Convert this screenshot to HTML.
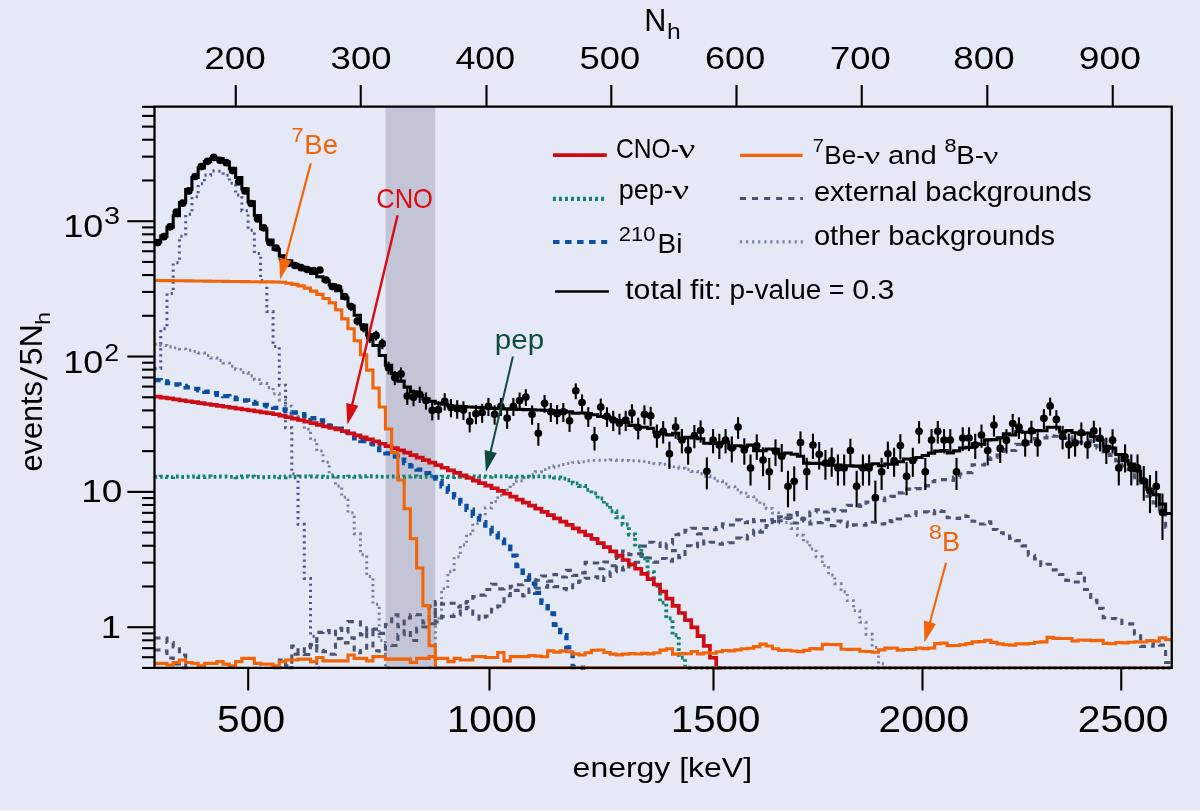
<!DOCTYPE html>
<html lang="en"><head><meta charset="utf-8"><title>Borexino CNO neutrino spectral fit</title>
<style>html,body{margin:0;padding:0;background:#E5E9F5;}body{width:1200px;height:811px;overflow:hidden;}svg{display:block;}</style>
</head><body>
<svg width="1200" height="811" viewBox="0 0 1200 811" style="will-change:transform" font-family="'Liberation Sans', sans-serif" fill="#000">
<rect width="1200" height="811" fill="#E5E9F5"/>
<rect x="0" y="809.7" width="1200" height="1.3" fill="#F6F7FC"/>
<defs><clipPath id="cp"><rect x="154.5" y="106.6" width="1017.25" height="563.8"/></clipPath></defs>
<rect x="385.6" y="106.6" width="49.6" height="561.1999999999999" fill="#C3C5D6"/>
<g clip-path="url(#cp)" fill="none" stroke-linejoin="miter">
<path d="M154.48 368.46H160.72V328.75H166.96V293.49H173.20V262.67H179.45V236.29H185.69V214.35H191.93V196.86H198.17V183.81H204.41V175.21H210.65V171.04H216.89V171.23H223.14V175.32H229.38V183.25H235.62V195.03H241.86V210.66H248.10V230.13H254.34V253.45H260.59V280.61H266.83V311.62H273.07V346.48H279.31V385.18H285.55V427.72H291.79V474.12H298.03V524.35H304.28V578.44H310.52V636.37H316.76V667.80H323.00" stroke="#50568A" stroke-width="3.0" stroke-dasharray="2.2 3.88"/>
<path d="M154.48 344.26H160.72V345.47H166.96V346.68H173.20V347.90H179.45V349.11H185.69V350.32H191.93V351.54H198.17V353.02H204.41V355.51H210.65V358.01H216.89V360.51H223.14V363.13H229.38V366.25H235.62V369.37H241.86V372.49H248.10V375.76H254.34V379.67H260.59V383.57H266.83V387.47H273.07V393.69H279.31V399.93H285.55V406.17H291.79V413.23H298.03V420.51H304.28V429.19H310.52V440.12H316.76V451.04H323.00V462.24H329.24V474.73H335.48V486.01H341.73V497.19H347.97V512.85H354.21V533.76H360.45V554.74H366.69V576.49H372.93V604.19H379.17V640.52H385.42V667.80H391.66" stroke="#767F9C" stroke-width="2.9" stroke-dasharray="2.2 3.6"/>
<path d="M429.11 667.80H435.35V618.25H441.59V588.61H447.83V571.80H454.07V556.83H460.31V544.97H466.55V534.14H472.80V523.66H479.04V515.41H485.28V507.92H491.52V501.36H497.76V495.23H504.00V489.83H510.25V484.42H516.49V480.79H522.73V477.79H528.97V474.80H535.21V471.80H541.45V469.63H547.69V467.76H553.94V465.88H560.18V464.51H566.42V463.57H572.66V462.63H578.90V461.70H585.14V460.76H591.38V460.41H597.63V460.29H603.87V460.16H610.11V460.04H616.35V460.18H622.59V460.43H628.83V460.68H635.08V460.93H641.32V461.62H647.56V462.50H653.80V463.37H660.04V464.24H666.28V465.47H672.52V466.84H678.77V468.22H685.01V469.59H691.25V471.57H697.49V473.82H703.73V476.07H709.97V478.31H716.22V481.05H722.46V483.99H728.70V486.94H734.94V489.88H741.18V493.17H747.42V496.61H753.66V500.06H759.91V504.22H766.15V508.38H772.39V512.91H778.63V517.69H784.87V522.46H791.11V528.56H797.35V535.29H803.60V542.02H809.84V549.07H816.08V556.82H822.32V565.66H828.56V575.02H834.80V583.74H841.05V591.73H847.29V600.65H853.53V610.64H859.77V622.15H866.01V634.26H872.25V647.44H878.49V663.76H884.74V667.80H890.98" stroke="#767F9C" stroke-width="2.9" stroke-dasharray="2.2 3.6"/>
<path d="M154.48 638.00H160.72V638.00H166.96V642.50H173.20V647.00H179.45V655.00H185.69V667.80H191.93" stroke="#4A5470" stroke-width="3.1" stroke-dasharray="6 5.4"/>
<path d="M154.48 650.00H160.72V651.00H166.96V658.00H173.20V664.00H179.45V667.80H185.69" stroke="#4A5470" stroke-width="3.1" stroke-dasharray="6 5.4"/>
<path d="M273.07 667.80H279.31V660.07H285.55V665.82H291.79V654.26H298.03V653.94H304.28V654.44H310.52V644.33H316.76V650.29H323.00V651.63H329.24V654.32H335.48V638.62H341.73V642.90H347.97V637.90H354.21V652.73H360.45V648.08H366.69V631.66H372.93V650.77H379.17V651.32H385.42V645.42H391.66V645.51H397.90V634.66H404.14V630.70H410.38V640.57H416.62V628.39H422.86V626.99H429.11V623.76H435.35V601.55H441.59V604.13H447.83V603.25H454.07V607.05H460.31V602.87H466.55V601.55H472.80V596.67H479.04V595.14H485.28V589.55H491.52V584.25H497.76V588.84H504.00V587.95H510.25V586.24H516.49V584.79H522.73V580.47H528.97V579.53H535.21V580.18H541.45V575.94H547.69V581.10H553.94V574.58H560.18V576.99H566.42V570.34H572.66V575.38H578.90V572.92H585.14V562.35H591.38V562.96H597.63V568.79H603.87V562.07H610.11V565.81H616.35V557.08H622.59V551.02H628.83V554.64H635.08V553.79H641.32V546.14H647.56V542.25H653.80V543.08H660.04V548.16H666.28V543.84H672.52V534.68H678.77V533.97H685.01V530.25H691.25V528.28H697.49V533.84H703.73V528.50H709.97V529.73H716.22V527.66H722.46V523.91H728.70V525.00H734.94V519.91H741.18V522.70H747.42V519.47H753.66V521.73H759.91V520.60H766.15V519.51H772.39V522.66H778.63V520.77H784.87V518.41H791.11V522.97H797.35V519.16H803.60V521.00H809.84V524.04H816.08V522.64H822.32V519.25H828.56V525.59H834.80V520.95H841.05V522.15H847.29V526.67H853.53V524.86H859.77V525.27H866.01V523.59H872.25V522.18H878.49V523.99H884.74V520.58H890.98V521.78H897.22V518.95H903.46V515.74H909.70V515.50H915.94V511.83H922.18V511.89H928.43V513.73H934.67V510.46H940.91V511.52H947.15V517.75H953.39V518.37H959.63V515.74H965.88V516.47H972.12V521.22H978.36V524.05H984.60V521.84H990.84V529.52H997.08V532.69H1003.32V536.11H1009.57V538.38H1015.81V540.67H1022.05V545.90H1028.29V555.31H1034.53V558.86H1040.77V565.41H1047.01V564.24H1053.26V569.89H1059.50V574.56H1065.74V580.34H1071.98V581.98H1078.22V573.18H1084.46V589.44H1090.70V600.35H1096.95V608.41H1103.19V617.79H1109.43V618.49H1115.67V618.80H1121.91V623.35H1128.15V623.92H1134.40V633.92H1140.64V646.36H1146.88V646.12H1153.12V643.84H1159.36V645.14H1165.60V662.48H1171.75" stroke="#4A5470" stroke-width="3.1" stroke-dasharray="6 5.4"/>
<path d="M279.31 667.80H285.55V667.79H291.79V646.05H298.03V653.35H304.28V646.03H310.52V644.75H316.76V632.34H323.00V630.47H329.24V634.62H335.48V628.30H341.73V632.05H347.97V621.63H354.21V622.04H360.45V634.83H366.69V627.79H372.93V629.17H379.17V633.42H385.42V624.54H391.66V614.74H397.90V626.75H404.14V617.85H410.38V614.63H416.62V614.82H422.86V622.86H429.11V606.37H435.35V622.04H441.59V616.67H447.83V616.41H454.07V614.89H460.31V608.58H466.55V607.31H472.80V614.08H479.04V619.26H485.28V616.11H491.52V609.23H497.76V606.07H504.00V595.70H510.25V590.35H516.49V590.56H522.73V595.97H528.97V589.15H535.21V588.26H541.45V587.17H547.69V585.27H553.94V586.62H560.18V588.64H566.42V589.67H572.66V582.40H578.90V580.96H585.14V578.19H591.38V576.77H597.63V580.47H603.87V576.46H610.11V571.77H616.35V566.73H622.59V570.05H628.83V565.09H635.08V562.30H641.32V554.62H647.56V558.00H653.80V562.11H660.04V558.52H666.28V561.08H672.52V550.65H678.77V557.66H685.01V545.68H691.25V546.73H697.49V541.14H703.73V543.94H709.97V542.24H716.22V544.13H722.46V543.01H728.70V542.74H734.94V538.03H741.18V538.99H747.42V535.23H753.66V530.27H759.91V532.12H766.15V525.44H772.39V521.50H778.63V516.78H784.87V515.13H791.11V512.50H797.35V518.12H803.60V518.97H809.84V511.93H816.08V509.70H822.32V512.04H828.56V509.20H834.80V510.92H841.05V510.83H847.29V505.38H853.53V504.83H859.77V506.40H866.01V502.12H872.25V499.65H878.49V500.63H884.74V497.96H890.98V496.35H897.22V492.84H903.46V489.03H909.70V489.32H915.94V488.66H922.18V485.84H928.43V481.64H934.67V480.45H940.91V479.65H947.15V480.48H953.39V477.12H959.63V473.95H965.88V472.66H972.12V464.80H978.36V465.04H984.60V459.57H990.84V457.57H997.08V455.03H1003.32V449.61H1009.57V450.51H1015.81V444.42H1022.05V443.87H1028.29V441.76H1034.53V438.51H1040.77V437.88H1047.01V435.87H1053.26V436.22H1059.50V438.56H1065.74V436.81H1071.98V439.42H1078.22V442.16H1084.46V440.69H1090.70V445.54H1096.95V447.95H1103.19V454.14H1109.43V455.37H1115.67V460.99H1121.91V466.05H1128.15V469.73H1134.40V477.60H1140.64V486.36H1146.88V496.12H1153.12V502.90H1159.36V513.05H1165.60V527.30H1171.75" stroke="#4A5470" stroke-width="3.1" stroke-dasharray="6 5.4" stroke-dashoffset="3"/>
<path d="M154.48 476.82H160.72V476.64H166.96V477.13H173.20V476.55H179.45V477.00H185.69V476.82H191.93V476.51H198.17V476.95H204.41V476.47H210.65V476.86H216.89V476.49H223.14V476.50H229.38V476.83H235.62V477.22H241.86V476.51H248.10V476.60H254.34V477.00H260.59V477.31H266.83V476.93H273.07V476.74H279.31V477.32H285.55V476.38H291.79V477.18H298.03V476.61H304.28V476.45H310.52V476.42H316.76V476.60H323.00V477.10H329.24V476.46H335.48V476.85H341.73V476.90H347.97V476.63H354.21V476.79H360.45V476.30H366.69V476.29H372.93V476.43H379.17V476.89H385.42V476.63H391.66V476.51H397.90V476.78H404.14V476.64H410.38V476.47H416.62V476.96H422.86V476.86H429.11V476.40H435.35V476.72H441.59V476.66H447.83V477.00H454.07V476.85H460.31V476.40H466.55V477.08H472.80V476.21H479.04V476.51H485.28V476.84H491.52V476.22H497.76V476.55H504.00V476.10H510.25V476.72H516.49V476.81H522.73V476.61H528.97V476.90H535.21V476.33H541.45V476.71H547.69V476.60H553.94V477.49H560.18V478.62H566.42V480.25H572.66V483.34H578.90V485.99H585.14V489.84H591.38V493.40H597.63V498.45H603.87V504.64H610.11V511.22H616.35V517.29H622.59V524.50H628.83V534.53H635.08V546.56H641.32V558.40H647.56V572.12H653.80V585.86H660.04V602.60H666.28V618.36H672.52V635.23H678.77V657.43H685.01V667.80H691.25" stroke="#14826F" stroke-width="3.9" stroke-dasharray="2.7 3.0"/>
<path d="M154.48 380.11H160.72V381.57H166.96V383.03H173.20V384.49H179.45V385.95H185.69V387.41H191.93V388.87H198.17V390.33H204.41V391.79H210.65V393.25H216.89V394.71H223.14V396.17H229.38V397.63H235.62V399.09H241.86V400.55H248.10V402.01H254.34V403.47H260.59V404.93H266.83V406.39H273.07V407.87H279.31V409.44H285.55V411.00H291.79V412.57H298.03V414.14H304.28V415.98H310.52V418.26H316.76V420.54H323.00V423.13H329.24V425.95H335.48V428.77H341.73V431.82H347.97V435.17H354.21V438.36H360.45V440.97H366.69V443.59H372.93V446.62H379.17V450.01H385.42V453.33H391.66V456.51H397.90V459.68H404.14V462.95H410.38V466.31H416.62V469.67H422.86V473.13H429.11V477.13H435.35V481.27H441.59V486.27H447.83V491.68H454.07V497.42H460.31V503.43H466.55V509.68H472.80V515.92H479.04V522.16H485.28V527.99H491.52V533.48H497.76V539.79H504.00V546.78H510.25V555.66H516.49V566.14H522.73V575.42H528.97V583.66H535.21V592.83H541.45V602.82H547.69V613.47H553.94V624.70H560.18V635.18H566.42V647.35H572.66V667.09H578.90V667.80H585.14" stroke="#0C4FA1" stroke-width="4.4" stroke-dasharray="6.5 5.6"/>
<path d="M154.48 396.63H160.72V397.55H166.96V398.47H173.20V399.39H179.45V400.31H185.69V401.24H191.93V402.16H198.17V403.08H204.41V404.00H210.65V404.92H216.89V405.84H223.14V406.76H229.38V407.68H235.62V408.60H241.86V409.52H248.10V410.44H254.34V411.36H260.59V412.28H266.83V413.20H273.07V414.24H279.31V415.69H285.55V417.13H291.79V418.57H298.03V420.01H304.28V421.54H310.52V423.22H316.76V424.90H323.00V426.47H329.24V427.98H335.48V429.48H341.73V431.24H347.97V433.29H354.21V435.32H360.45V437.30H366.69V439.28H372.93V441.45H379.17V443.76H385.42V446.03H391.66V448.15H397.90V450.28H404.14V452.61H410.38V455.13H416.62V457.64H422.86V460.16H429.11V462.67H435.35V465.18H441.59V467.74H447.83V470.30H454.07V472.87H460.31V475.44H466.55V478.00H472.80V480.57H479.04V483.14H485.28V485.70H491.52V488.27H497.76V490.84H504.00V493.72H510.25V496.72H516.49V499.71H522.73V502.71H528.97V505.70H535.21V508.70H541.45V511.88H547.69V515.12H553.94V518.37H560.18V521.62H566.42V524.95H572.66V528.32H578.90V531.69H585.14V535.06H591.38V538.97H597.63V543.09H603.87V547.21H610.11V551.33H616.35V555.63H622.59V560.00H628.83V564.37H635.08V568.74H641.32V573.80H647.56V579.15H653.80V584.50H660.04V591.51H666.28V598.69H672.52V605.87H678.77V613.01H685.01V620.15H691.25V627.28H697.49V636.14H703.73V645.83H709.97V657.73H716.22V667.80H722.46" stroke="#CE0C15" stroke-width="3.7"/>
<path d="M154.48 280.50H160.72V280.58H166.96V280.66H173.20V280.74H179.45V280.82H185.69V280.89H191.93V280.97H198.17V281.05H204.41V281.13H210.65V281.21H216.89V281.29H223.14V281.37H229.38V281.45H235.62V281.53H241.86V281.61H248.10V281.68H254.34V281.76H260.59V281.84H266.83V281.92H273.07V282.00H279.31V282.20H285.55V283.30H291.79V284.40H298.03V285.90H304.28V288.10H310.52V291.10H316.76V294.40H323.00V298.50H329.24V302.90H335.48V309.80H341.73V318.90H347.97V328.80H354.21V340.80H360.45V354.70H366.69V370.10H372.93V388.00H379.17V407.00H385.42V429.00H391.66V452.50H397.90V480.00H404.14V508.75H410.38V538.75H416.62V568.00H422.86V605.60H429.11V645.60H435.35V667.80H441.59V667.80H447.83V667.80H454.07V667.80H460.31V667.80H466.55V667.80H472.80V667.80H479.04V667.80H485.28V667.80H491.52V667.80H497.76V667.80H504.00V667.80H510.25V667.80H516.49V667.80H522.73V667.80H528.97V667.80H535.21V667.80H541.45V667.80H547.69V667.80H553.94V667.80H560.18V667.80H566.42V667.80H572.66V667.80H578.90V667.80H585.14V667.80H591.38V667.80H597.63V667.80H603.87V667.80H610.11V667.80H616.35V667.80H622.59V667.80H628.83V667.80H635.08V667.80H641.32V667.80H647.56V667.80H653.80V667.80H660.04V667.80H666.28V667.80H672.52V667.80H678.77V667.80H685.01V667.80H691.25V667.80H697.49V667.80H703.73V667.80H709.97V667.80H716.22V667.80H722.46V667.80H728.70V667.80H734.94V667.80H741.18V667.80H747.42V667.80H753.66V667.80H759.91V667.80H766.15V667.80H772.39V667.80H778.63V667.80H784.87V667.80H791.11V667.80H797.35V667.80H803.60V667.80H809.84V667.80H816.08V667.80H822.32V667.80H828.56V667.80H834.80V667.80H841.05V667.80H847.29V667.80H853.53V667.80H859.77V667.80H866.01V667.80H872.25V667.80H878.49V667.80H884.74V667.80H890.98V667.80H897.22V667.80H903.46V667.80H909.70V667.80H915.94V667.80H922.18V667.80H928.43V667.80H934.67V667.80H940.91V667.80H947.15V667.80H953.39V667.80H959.63V667.80H965.88V667.80H972.12V667.80H978.36V667.80H984.60V667.80H990.84V667.80H997.08V667.80H1003.32V667.80H1009.57V667.80H1015.81V667.80H1022.05V667.80H1028.29V667.80H1034.53V667.80H1040.77V667.80H1047.01V667.80H1053.26V667.80H1059.50V667.80H1065.74V667.80H1071.98V667.80H1078.22V667.80H1084.46V667.80H1090.70V667.80H1096.95V667.80H1103.19V667.80H1109.43V667.80H1115.67V667.80H1121.91V667.80H1128.15V667.80H1134.40V667.80H1140.64V667.80H1146.88V667.80H1153.12V667.80H1159.36V667.80H1165.60V667.80H1171.75" stroke="#F36408" stroke-width="3.1"/>
<path d="M154.48 663.33H160.72V663.33H166.96V665.00H173.20V662.50H179.45V660.00H185.69V662.50H191.93V663.33H198.17V665.83H204.41V663.33H210.65V663.33H216.89V661.67H223.14V664.17H229.38V665.83H235.62V661.67H241.86V658.33H248.10V658.33H254.34V663.33H260.59V664.17H266.83V664.17H273.07V665.83H279.31V661.67H285.55V660.00H291.79V660.00H298.03V659.17H304.28V659.17H310.52V661.67H316.76V657.50H323.00V660.83H329.24V660.83H335.48V660.83H341.73V660.83H347.97V655.00H354.21V658.33H360.45V658.33H366.69V660.83H372.93V656.67H379.17V656.67H385.42V659.17H391.66V659.17H397.90V659.17H404.14V659.17H410.38V662.50H416.62V658.33H422.86V658.33H429.11V656.67H435.35V658.33H441.59V658.33H447.83V661.67H454.07V658.33H460.31V660.00H466.55V660.00H472.80V656.67H479.04V656.67H485.28V657.50H491.52V657.50H497.76V652.50H504.00V660.83H510.25V656.67H516.49V656.67H522.73V656.67H528.97V655.57H535.21V656.08H541.45V656.73H547.69V650.85H553.94V652.14H560.18V650.88H566.42V651.82H572.66V653.88H578.90V655.06H585.14V652.69H591.38V650.25H597.63V649.98H603.87V652.51H610.11V654.11H616.35V654.86H622.59V654.12H628.83V653.67H635.08V653.97H641.32V653.35H647.56V653.87H653.80V652.76H660.04V650.08H666.28V648.68H672.52V654.15H678.77V653.45H685.01V653.79H691.25V651.50H697.49V653.89H703.73V652.79H709.97V653.21H716.22V651.82H722.46V650.43H728.70V650.85H734.94V649.85H741.18V648.74H747.42V648.32H753.66V646.62H759.91V644.08H766.15V646.01H772.39V648.80H778.63V650.47H784.87V650.29H791.11V651.07H797.35V651.66H803.60V650.36H809.84V648.65H816.08V648.87H822.32V644.36H828.56V644.51H834.80V644.67H841.05V649.25H847.29V649.39H853.53V649.29H859.77V651.21H866.01V651.53H872.25V652.22H878.49V649.87H884.74V648.15H890.98V648.02H897.22V650.15H903.46V649.48H909.70V649.49H915.94V647.95H922.18V648.66H928.43V647.93H934.67V643.63H940.91V642.96H947.15V645.64H953.39V645.54H959.63V644.75H965.88V643.64H972.12V641.89H978.36V641.62H984.60V640.25H990.84V642.33H997.08V643.90H1003.32V644.76H1009.57V645.10H1015.81V643.77H1022.05V643.84H1028.29V643.43H1034.53V642.23H1040.77V641.87H1047.01V637.37H1053.26V638.42H1059.50V638.46H1065.74V638.45H1071.98V641.06H1078.22V640.01H1084.46V640.11H1090.70V640.63H1096.95V640.40H1103.19V643.37H1109.43V643.75H1115.67V642.55H1121.91V642.90H1128.15V642.20H1134.40V641.87H1140.64V642.01H1146.88V640.59H1153.12V641.09H1159.36V637.75H1165.60V639.66H1171.75" stroke="#F36408" stroke-width="3.1"/>
<line x1="689" y1="667.8" x2="1171.75" y2="667.8" stroke="#14826F" stroke-width="3.3" stroke-dasharray="2.6 3.1"/>
<path d="M154.48 241.98H160.72V236.14H166.96V227.27H173.20V215.70H179.45V202.61H185.69V189.45H191.93V177.56H198.17V168.01H204.41V161.47H210.65V158.29H216.89V158.57H223.14V161.99H229.38V168.39H235.62V177.51H241.86V188.91H248.10V201.92H254.34V215.59H260.59V228.72H266.83V240.13H273.07V249.22H279.31V255.77H285.55V260.71H291.79V264.20H298.03V267.02H304.28V269.95H310.52V273.35H316.76V276.80H323.00V280.76H329.24V284.92H335.48V290.79H341.73V298.14H347.97V306.05H354.21V315.18H360.45V324.94H366.69V334.90H372.93V345.45H379.17V355.48H385.42V365.32H391.66V373.62H397.90V381.10H404.14V387.09H410.38V391.86H416.62V395.55H422.86V398.83H429.11V401.33H435.35V403.21H441.59V404.20H447.83V406.05H454.07V406.36H460.31V406.67H466.55V406.98H472.80V407.32H479.04V407.65H485.28V407.99H491.52V408.33H497.76V408.66H504.00V408.92H510.25V409.14H516.49V409.37H522.73V409.59H528.97V409.82H535.21V410.04H541.45V410.26H547.69V410.49H553.94V410.71H560.18V411.05H566.42V411.92H572.66V413.28H578.90V413.06H585.14V413.58H591.38V414.74H597.63V416.55H603.87V417.37H610.11V419.59H616.35V420.62H622.59V422.48H628.83V425.37H635.08V427.28H641.32V427.22H647.56V428.39H653.80V432.22H660.04V433.93H666.28V434.86H672.52V433.32H678.77V438.51H685.01V437.24H691.25V437.83H697.49V438.73H703.73V443.26H709.97V443.40H716.22V443.17H722.46V442.00H728.70V447.98H734.94V445.79H741.18V446.75H747.42V445.08H753.66V450.60H759.91V450.73H766.15V449.07H772.39V449.36H778.63V454.07H784.87V453.06H791.11V454.28H797.35V456.25H803.60V463.14H809.84V463.36H816.08V463.41H822.32V463.86H828.56V465.32H834.80V465.02H841.05V466.05H847.29V465.90H853.53V466.12H859.77V467.08H866.01V464.77H872.25V463.74H878.49V465.77H884.74V464.08H890.98V464.18H897.22V461.77H903.46V459.07H909.70V459.31H915.94V457.47H922.18V455.47H928.43V453.15H934.67V451.09H940.91V450.62H947.15V452.83H953.39V450.90H959.63V447.94H965.88V447.34H972.12V443.73H978.36V444.56H984.60V439.89H990.84V439.67H997.08V437.83H1003.32V433.84H1009.57V435.01H1015.81V431.40H1022.05V432.30H1028.29V432.32H1034.53V430.54H1040.77V430.68H1047.01V427.25H1053.26V427.26H1059.50V431.97H1065.74V430.67H1071.98V432.77H1078.22V433.97H1084.46V433.02H1090.70V436.68H1096.95V439.93H1103.19V446.31H1109.43V448.17H1115.67V454.46H1121.91V460.60H1128.15V464.16H1134.40V470.99H1140.64V480.65H1146.88V489.50H1153.12V494.79H1159.36V504.16H1165.60V513.44H1171.75" stroke="#000" stroke-width="3.1"/>
</g>
<g stroke="#000" stroke-width="2.1" fill="#000">
<circle cx="157.60" cy="242.60" r="3.85" stroke="none"/>
<circle cx="163.84" cy="236.70" r="3.85" stroke="none"/>
<circle cx="170.08" cy="226.80" r="3.85" stroke="none"/>
<circle cx="176.33" cy="212.00" r="3.85" stroke="none"/>
<circle cx="182.57" cy="203.20" r="3.85" stroke="none"/>
<circle cx="188.81" cy="190.90" r="3.85" stroke="none"/>
<circle cx="195.05" cy="176.50" r="3.85" stroke="none"/>
<circle cx="201.29" cy="166.60" r="3.85" stroke="none"/>
<circle cx="207.53" cy="161.30" r="3.85" stroke="none"/>
<circle cx="213.77" cy="157.40" r="3.85" stroke="none"/>
<circle cx="220.02" cy="160.30" r="3.85" stroke="none"/>
<circle cx="226.26" cy="162.70" r="3.85" stroke="none"/>
<circle cx="232.50" cy="170.60" r="3.85" stroke="none"/>
<circle cx="238.74" cy="181.80" r="3.85" stroke="none"/>
<circle cx="244.98" cy="190.90" r="3.85" stroke="none"/>
<circle cx="251.22" cy="203.50" r="3.85" stroke="none"/>
<circle cx="257.46" cy="218.90" r="3.85" stroke="none"/>
<circle cx="263.71" cy="227.80" r="3.85" stroke="none"/>
<circle cx="269.95" cy="242.60" r="3.85" stroke="none"/>
<circle cx="276.19" cy="248.00" r="3.85" stroke="none"/>
<circle cx="282.43" cy="258.50" r="3.85" stroke="none"/>
<circle cx="288.67" cy="263.30" r="3.85" stroke="none"/>
<circle cx="294.91" cy="265.50" r="3.85" stroke="none"/>
<circle cx="301.16" cy="267.70" r="3.85" stroke="none"/>
<circle cx="307.40" cy="269.50" r="3.85" stroke="none"/>
<circle cx="313.64" cy="270.60" r="3.85" stroke="none"/>
<circle cx="319.88" cy="270.00" r="3.85" stroke="none"/>
<circle cx="326.12" cy="280.00" r="3.85" stroke="none"/>
<circle cx="332.36" cy="286.60" r="3.85" stroke="none"/>
<line x1="338.60" y1="284.91" x2="338.60" y2="291.48"/>
<circle cx="338.60" cy="288.10" r="3.85" stroke="none"/>
<line x1="344.85" y1="293.17" x2="344.85" y2="300.24"/>
<circle cx="344.85" cy="296.60" r="3.85" stroke="none"/>
<line x1="351.09" y1="302.88" x2="351.09" y2="310.57"/>
<circle cx="351.09" cy="306.60" r="3.85" stroke="none"/>
<line x1="357.33" y1="316.81" x2="357.33" y2="325.51"/>
<circle cx="357.33" cy="321.00" r="3.85" stroke="none"/>
<line x1="363.57" y1="323.18" x2="363.57" y2="332.38"/>
<circle cx="363.57" cy="327.60" r="3.85" stroke="none"/>
<line x1="369.81" y1="332.80" x2="369.81" y2="342.83"/>
<circle cx="369.81" cy="337.60" r="3.85" stroke="none"/>
<line x1="376.05" y1="330.68" x2="376.05" y2="340.53"/>
<circle cx="376.05" cy="335.40" r="3.85" stroke="none"/>
<line x1="382.29" y1="338.65" x2="382.29" y2="349.22"/>
<circle cx="382.29" cy="343.70" r="3.85" stroke="none"/>
<line x1="388.54" y1="361.57" x2="388.54" y2="374.55"/>
<circle cx="388.54" cy="367.70" r="3.85" stroke="none"/>
<line x1="394.78" y1="370.96" x2="394.78" y2="385.09"/>
<circle cx="394.78" cy="377.60" r="3.85" stroke="none"/>
<line x1="401.02" y1="367.45" x2="401.02" y2="381.14"/>
<circle cx="401.02" cy="373.90" r="3.85" stroke="none"/>
<line x1="407.26" y1="388.40" x2="407.26" y2="404.97"/>
<circle cx="407.26" cy="396.10" r="3.85" stroke="none"/>
<line x1="413.50" y1="389.52" x2="413.50" y2="406.26"/>
<circle cx="413.50" cy="397.30" r="3.85" stroke="none"/>
<line x1="419.74" y1="386.71" x2="419.74" y2="403.02"/>
<circle cx="419.74" cy="394.30" r="3.85" stroke="none"/>
<line x1="425.99" y1="392.43" x2="425.99" y2="409.62"/>
<circle cx="425.99" cy="400.40" r="3.85" stroke="none"/>
<line x1="432.23" y1="401.68" x2="432.23" y2="420.41"/>
<circle cx="432.23" cy="410.30" r="3.85" stroke="none"/>
<line x1="438.47" y1="401.12" x2="438.47" y2="419.75"/>
<circle cx="438.47" cy="409.70" r="3.85" stroke="none"/>
<line x1="444.71" y1="393.23" x2="444.71" y2="410.55"/>
<circle cx="444.71" cy="401.25" r="3.85" stroke="none"/>
<line x1="450.95" y1="399.07" x2="450.95" y2="417.35"/>
<circle cx="450.95" cy="407.50" r="3.85" stroke="none"/>
<line x1="457.19" y1="400.23" x2="457.19" y2="418.71"/>
<circle cx="457.19" cy="408.75" r="3.85" stroke="none"/>
<line x1="463.43" y1="401.40" x2="463.43" y2="420.08"/>
<circle cx="463.43" cy="410.00" r="3.85" stroke="none"/>
<line x1="469.68" y1="411.85" x2="469.68" y2="432.44"/>
<circle cx="469.68" cy="421.25" r="3.85" stroke="none"/>
<line x1="475.92" y1="404.89" x2="475.92" y2="424.19"/>
<circle cx="475.92" cy="413.75" r="3.85" stroke="none"/>
<line x1="482.16" y1="403.73" x2="482.16" y2="422.82"/>
<circle cx="482.16" cy="412.50" r="3.85" stroke="none"/>
<line x1="488.40" y1="397.90" x2="488.40" y2="415.98"/>
<circle cx="488.40" cy="406.25" r="3.85" stroke="none"/>
<line x1="494.64" y1="405.36" x2="494.64" y2="424.73"/>
<circle cx="494.64" cy="414.25" r="3.85" stroke="none"/>
<line x1="500.88" y1="397.90" x2="500.88" y2="415.98"/>
<circle cx="500.88" cy="406.25" r="3.85" stroke="none"/>
<line x1="507.12" y1="408.84" x2="507.12" y2="428.86"/>
<circle cx="507.12" cy="418.00" r="3.85" stroke="none"/>
<line x1="513.37" y1="397.90" x2="513.37" y2="415.98"/>
<circle cx="513.37" cy="406.25" r="3.85" stroke="none"/>
<line x1="519.61" y1="392.52" x2="519.61" y2="409.73"/>
<circle cx="519.61" cy="400.50" r="3.85" stroke="none"/>
<line x1="525.85" y1="389.24" x2="525.85" y2="405.94"/>
<circle cx="525.85" cy="397.00" r="3.85" stroke="none"/>
<line x1="532.09" y1="405.36" x2="532.09" y2="424.73"/>
<circle cx="532.09" cy="414.25" r="3.85" stroke="none"/>
<line x1="538.33" y1="422.92" x2="538.33" y2="445.78"/>
<circle cx="538.33" cy="433.25" r="3.85" stroke="none"/>
<line x1="544.57" y1="395.10" x2="544.57" y2="412.72"/>
<circle cx="544.57" cy="403.25" r="3.85" stroke="none"/>
<line x1="550.82" y1="403.03" x2="550.82" y2="421.99"/>
<circle cx="550.82" cy="411.75" r="3.85" stroke="none"/>
<line x1="557.06" y1="404.89" x2="557.06" y2="424.19"/>
<circle cx="557.06" cy="413.75" r="3.85" stroke="none"/>
<line x1="563.30" y1="403.03" x2="563.30" y2="421.99"/>
<circle cx="563.30" cy="411.75" r="3.85" stroke="none"/>
<line x1="569.54" y1="411.39" x2="569.54" y2="431.89"/>
<circle cx="569.54" cy="420.75" r="3.85" stroke="none"/>
<line x1="575.78" y1="383.37" x2="575.78" y2="399.19"/>
<circle cx="575.78" cy="390.75" r="3.85" stroke="none"/>
<line x1="582.02" y1="394.40" x2="582.02" y2="411.90"/>
<circle cx="582.02" cy="402.50" r="3.85" stroke="none"/>
<line x1="588.26" y1="407.21" x2="588.26" y2="426.93"/>
<circle cx="588.26" cy="416.25" r="3.85" stroke="none"/>
<line x1="594.51" y1="426.83" x2="594.51" y2="450.55"/>
<circle cx="594.51" cy="437.50" r="3.85" stroke="none"/>
<line x1="600.75" y1="398.60" x2="600.75" y2="416.80"/>
<circle cx="600.75" cy="407.00" r="3.85" stroke="none"/>
<line x1="606.99" y1="407.21" x2="606.99" y2="426.93"/>
<circle cx="606.99" cy="416.25" r="3.85" stroke="none"/>
<line x1="613.23" y1="410.69" x2="613.23" y2="431.06"/>
<circle cx="613.23" cy="420.00" r="3.85" stroke="none"/>
<line x1="619.47" y1="413.70" x2="619.47" y2="434.66"/>
<circle cx="619.47" cy="423.25" r="3.85" stroke="none"/>
<line x1="625.71" y1="410.69" x2="625.71" y2="431.06"/>
<circle cx="625.71" cy="420.00" r="3.85" stroke="none"/>
<line x1="631.95" y1="404.19" x2="631.95" y2="423.36"/>
<circle cx="631.95" cy="413.00" r="3.85" stroke="none"/>
<line x1="638.20" y1="417.63" x2="638.20" y2="439.37"/>
<circle cx="638.20" cy="427.50" r="3.85" stroke="none"/>
<line x1="644.44" y1="405.36" x2="644.44" y2="424.73"/>
<circle cx="644.44" cy="414.25" r="3.85" stroke="none"/>
<line x1="650.68" y1="406.75" x2="650.68" y2="426.38"/>
<circle cx="650.68" cy="415.75" r="3.85" stroke="none"/>
<line x1="656.92" y1="424.53" x2="656.92" y2="447.74"/>
<circle cx="656.92" cy="435.00" r="3.85" stroke="none"/>
<line x1="663.16" y1="421.08" x2="663.16" y2="443.55"/>
<circle cx="663.16" cy="431.25" r="3.85" stroke="none"/>
<line x1="669.40" y1="441.65" x2="669.40" y2="469.01"/>
<circle cx="669.40" cy="453.75" r="3.85" stroke="none"/>
<line x1="675.65" y1="417.17" x2="675.65" y2="438.81"/>
<circle cx="675.65" cy="427.00" r="3.85" stroke="none"/>
<line x1="681.89" y1="429.12" x2="681.89" y2="453.37"/>
<circle cx="681.89" cy="440.00" r="3.85" stroke="none"/>
<line x1="688.13" y1="438.24" x2="688.13" y2="464.71"/>
<circle cx="688.13" cy="450.00" r="3.85" stroke="none"/>
<line x1="694.37" y1="424.99" x2="694.37" y2="448.30"/>
<circle cx="694.37" cy="435.50" r="3.85" stroke="none"/>
<line x1="700.61" y1="420.39" x2="700.61" y2="442.71"/>
<circle cx="700.61" cy="430.50" r="3.85" stroke="none"/>
<line x1="706.85" y1="457.42" x2="706.85" y2="489.37"/>
<circle cx="706.85" cy="471.25" r="3.85" stroke="none"/>
<line x1="713.09" y1="429.12" x2="713.09" y2="453.37"/>
<circle cx="713.09" cy="440.00" r="3.85" stroke="none"/>
<line x1="719.34" y1="433.69" x2="719.34" y2="459.02"/>
<circle cx="719.34" cy="445.00" r="3.85" stroke="none"/>
<line x1="725.58" y1="429.12" x2="725.58" y2="453.37"/>
<circle cx="725.58" cy="440.00" r="3.85" stroke="none"/>
<line x1="731.82" y1="436.42" x2="731.82" y2="462.43"/>
<circle cx="731.82" cy="448.00" r="3.85" stroke="none"/>
<line x1="738.06" y1="417.17" x2="738.06" y2="438.81"/>
<circle cx="738.06" cy="427.00" r="3.85" stroke="none"/>
<line x1="744.30" y1="438.24" x2="744.30" y2="464.71"/>
<circle cx="744.30" cy="450.00" r="3.85" stroke="none"/>
<line x1="750.54" y1="454.50" x2="750.54" y2="485.55"/>
<circle cx="750.54" cy="468.00" r="3.85" stroke="none"/>
<line x1="756.78" y1="434.37" x2="756.78" y2="459.87"/>
<circle cx="756.78" cy="445.75" r="3.85" stroke="none"/>
<line x1="763.03" y1="447.30" x2="763.03" y2="476.22"/>
<circle cx="763.03" cy="460.00" r="3.85" stroke="none"/>
<line x1="769.27" y1="457.87" x2="769.27" y2="489.96"/>
<circle cx="769.27" cy="471.75" r="3.85" stroke="none"/>
<line x1="775.51" y1="439.38" x2="775.51" y2="466.14"/>
<circle cx="775.51" cy="451.25" r="3.85" stroke="none"/>
<line x1="781.75" y1="443.91" x2="781.75" y2="471.88"/>
<circle cx="781.75" cy="456.25" r="3.85" stroke="none"/>
<line x1="787.99" y1="470.76" x2="787.99" y2="507.34"/>
<circle cx="787.99" cy="486.25" r="3.85" stroke="none"/>
<line x1="794.23" y1="466.33" x2="794.23" y2="501.29"/>
<circle cx="794.23" cy="481.25" r="3.85" stroke="none"/>
<line x1="800.48" y1="431.40" x2="800.48" y2="456.19"/>
<circle cx="800.48" cy="442.50" r="3.85" stroke="none"/>
<line x1="806.72" y1="457.87" x2="806.72" y2="489.96"/>
<circle cx="806.72" cy="471.75" r="3.85" stroke="none"/>
<line x1="812.96" y1="433.69" x2="812.96" y2="459.02"/>
<circle cx="812.96" cy="445.00" r="3.85" stroke="none"/>
<line x1="819.20" y1="442.10" x2="819.20" y2="469.58"/>
<circle cx="819.20" cy="454.25" r="3.85" stroke="none"/>
<line x1="825.44" y1="450.01" x2="825.44" y2="479.70"/>
<circle cx="825.44" cy="463.00" r="3.85" stroke="none"/>
<line x1="831.68" y1="447.76" x2="831.68" y2="476.80"/>
<circle cx="831.68" cy="460.50" r="3.85" stroke="none"/>
<line x1="837.92" y1="454.50" x2="837.92" y2="485.55"/>
<circle cx="837.92" cy="468.00" r="3.85" stroke="none"/>
<line x1="844.17" y1="454.50" x2="844.17" y2="485.55"/>
<circle cx="844.17" cy="468.00" r="3.85" stroke="none"/>
<line x1="850.41" y1="438.70" x2="850.41" y2="465.28"/>
<circle cx="850.41" cy="450.50" r="3.85" stroke="none"/>
<line x1="856.65" y1="470.76" x2="856.65" y2="507.34"/>
<circle cx="856.65" cy="486.25" r="3.85" stroke="none"/>
<line x1="862.89" y1="454.50" x2="862.89" y2="485.55"/>
<circle cx="862.89" cy="468.00" r="3.85" stroke="none"/>
<line x1="869.13" y1="454.50" x2="869.13" y2="485.55"/>
<circle cx="869.13" cy="468.00" r="3.85" stroke="none"/>
<line x1="875.37" y1="480.66" x2="875.37" y2="521.19"/>
<circle cx="875.37" cy="497.50" r="3.85" stroke="none"/>
<line x1="881.61" y1="457.87" x2="881.61" y2="489.96"/>
<circle cx="881.61" cy="471.75" r="3.85" stroke="none"/>
<line x1="887.86" y1="441.65" x2="887.86" y2="469.01"/>
<circle cx="887.86" cy="453.75" r="3.85" stroke="none"/>
<line x1="894.10" y1="447.76" x2="894.10" y2="476.80"/>
<circle cx="894.10" cy="460.50" r="3.85" stroke="none"/>
<line x1="900.34" y1="434.14" x2="900.34" y2="459.59"/>
<circle cx="900.34" cy="445.50" r="3.85" stroke="none"/>
<line x1="906.58" y1="461.88" x2="906.58" y2="495.30"/>
<circle cx="906.58" cy="476.25" r="3.85" stroke="none"/>
<line x1="912.82" y1="447.76" x2="912.82" y2="476.80"/>
<circle cx="912.82" cy="460.50" r="3.85" stroke="none"/>
<line x1="919.06" y1="421.08" x2="919.06" y2="443.55"/>
<circle cx="919.06" cy="431.25" r="3.85" stroke="none"/>
<line x1="925.31" y1="457.87" x2="925.31" y2="489.96"/>
<circle cx="925.31" cy="471.75" r="3.85" stroke="none"/>
<line x1="931.55" y1="429.12" x2="931.55" y2="453.37"/>
<circle cx="931.55" cy="440.00" r="3.85" stroke="none"/>
<line x1="937.79" y1="421.08" x2="937.79" y2="443.55"/>
<circle cx="937.79" cy="431.25" r="3.85" stroke="none"/>
<line x1="944.03" y1="429.12" x2="944.03" y2="453.37"/>
<circle cx="944.03" cy="440.00" r="3.85" stroke="none"/>
<line x1="950.27" y1="429.12" x2="950.27" y2="453.37"/>
<circle cx="950.27" cy="440.00" r="3.85" stroke="none"/>
<line x1="956.51" y1="457.87" x2="956.51" y2="489.96"/>
<circle cx="956.51" cy="471.75" r="3.85" stroke="none"/>
<line x1="962.75" y1="427.29" x2="962.75" y2="451.11"/>
<circle cx="962.75" cy="438.00" r="3.85" stroke="none"/>
<line x1="969.00" y1="427.29" x2="969.00" y2="451.11"/>
<circle cx="969.00" cy="438.00" r="3.85" stroke="none"/>
<line x1="975.24" y1="433.69" x2="975.24" y2="459.02"/>
<circle cx="975.24" cy="445.00" r="3.85" stroke="none"/>
<line x1="981.48" y1="424.53" x2="981.48" y2="447.74"/>
<circle cx="981.48" cy="435.00" r="3.85" stroke="none"/>
<line x1="987.72" y1="438.70" x2="987.72" y2="465.28"/>
<circle cx="987.72" cy="450.50" r="3.85" stroke="none"/>
<line x1="993.96" y1="415.32" x2="993.96" y2="436.59"/>
<circle cx="993.96" cy="425.00" r="3.85" stroke="none"/>
<line x1="1000.20" y1="436.84" x2="1000.20" y2="462.95"/>
<circle cx="1000.20" cy="448.46" r="3.85" stroke="none"/>
<line x1="1006.44" y1="429.24" x2="1006.44" y2="453.51"/>
<circle cx="1006.44" cy="440.13" r="3.85" stroke="none"/>
<line x1="1012.69" y1="413.91" x2="1012.69" y2="434.91"/>
<circle cx="1012.69" cy="423.48" r="3.85" stroke="none"/>
<line x1="1018.93" y1="417.33" x2="1018.93" y2="439.01"/>
<circle cx="1018.93" cy="427.18" r="3.85" stroke="none"/>
<line x1="1025.17" y1="431.77" x2="1025.17" y2="456.65"/>
<circle cx="1025.17" cy="442.90" r="3.85" stroke="none"/>
<line x1="1031.41" y1="420.74" x2="1031.41" y2="443.13"/>
<circle cx="1031.41" cy="430.88" r="3.85" stroke="none"/>
<line x1="1037.65" y1="431.77" x2="1037.65" y2="456.65"/>
<circle cx="1037.65" cy="442.90" r="3.85" stroke="none"/>
<line x1="1043.89" y1="409.11" x2="1043.89" y2="429.19"/>
<circle cx="1043.89" cy="418.30" r="3.85" stroke="none"/>
<line x1="1050.14" y1="397.58" x2="1050.14" y2="415.61"/>
<circle cx="1050.14" cy="405.90" r="3.85" stroke="none"/>
<line x1="1056.38" y1="410.14" x2="1056.38" y2="430.41"/>
<circle cx="1056.38" cy="419.41" r="3.85" stroke="none"/>
<line x1="1062.62" y1="425.85" x2="1062.62" y2="449.35"/>
<circle cx="1062.62" cy="436.43" r="3.85" stroke="none"/>
<line x1="1068.86" y1="433.46" x2="1068.86" y2="458.74"/>
<circle cx="1068.86" cy="444.75" r="3.85" stroke="none"/>
<line x1="1075.10" y1="431.77" x2="1075.10" y2="456.65"/>
<circle cx="1075.10" cy="442.90" r="3.85" stroke="none"/>
<line x1="1081.34" y1="422.45" x2="1081.34" y2="445.20"/>
<circle cx="1081.34" cy="432.73" r="3.85" stroke="none"/>
<line x1="1087.58" y1="433.46" x2="1087.58" y2="458.74"/>
<circle cx="1087.58" cy="444.75" r="3.85" stroke="none"/>
<line x1="1093.83" y1="420.74" x2="1093.83" y2="443.13"/>
<circle cx="1093.83" cy="430.88" r="3.85" stroke="none"/>
<line x1="1100.07" y1="427.54" x2="1100.07" y2="451.43"/>
<circle cx="1100.07" cy="438.28" r="3.85" stroke="none"/>
<line x1="1106.31" y1="437.68" x2="1106.31" y2="464.01"/>
<circle cx="1106.31" cy="449.38" r="3.85" stroke="none"/>
<line x1="1112.55" y1="429.24" x2="1112.55" y2="453.51"/>
<circle cx="1112.55" cy="440.13" r="3.85" stroke="none"/>
<line x1="1118.79" y1="454.40" x2="1118.79" y2="485.41"/>
<circle cx="1118.79" cy="467.88" r="3.85" stroke="none"/>
<line x1="1125.03" y1="444.39" x2="1125.03" y2="472.50"/>
<circle cx="1125.03" cy="456.78" r="3.85" stroke="none"/>
<line x1="1131.27" y1="454.40" x2="1131.27" y2="485.41"/>
<circle cx="1131.27" cy="467.88" r="3.85" stroke="none"/>
<line x1="1137.52" y1="454.40" x2="1137.52" y2="485.41"/>
<circle cx="1137.52" cy="467.88" r="3.85" stroke="none"/>
<line x1="1143.76" y1="465.96" x2="1143.76" y2="500.79"/>
<circle cx="1143.76" cy="480.83" r="3.85" stroke="none"/>
<line x1="1150.00" y1="474.96" x2="1150.00" y2="513.15"/>
<circle cx="1150.00" cy="491.01" r="3.85" stroke="none"/>
<line x1="1156.24" y1="470.88" x2="1156.24" y2="507.50"/>
<circle cx="1156.24" cy="486.38" r="3.85" stroke="none"/>
<line x1="1162.48" y1="493.52" x2="1162.48" y2="540.02"/>
<circle cx="1162.48" cy="512.28" r="3.85" stroke="none"/>
</g>
<g stroke="#000" stroke-width="2.1" fill="none">
<path d="M154.5 106.6H1171.75V667.8H154.5Z" stroke-width="2.3"/>
<line x1="235.75" y1="85" x2="235.75" y2="106.6"/>
<line x1="360.75" y1="85" x2="360.75" y2="106.6"/>
<line x1="486.5" y1="85" x2="486.5" y2="106.6"/>
<line x1="611.3" y1="85" x2="611.3" y2="106.6"/>
<line x1="736.5" y1="85" x2="736.5" y2="106.6"/>
<line x1="861.75" y1="85" x2="861.75" y2="106.6"/>
<line x1="987.3" y1="85" x2="987.3" y2="106.6"/>
<line x1="1112.75" y1="85" x2="1112.75" y2="106.6"/>
<line x1="248.2" y1="667.8" x2="248.2" y2="690.5"/>
<line x1="489.5" y1="667.8" x2="489.5" y2="690.5"/>
<line x1="713.5" y1="667.8" x2="713.5" y2="690.5"/>
<line x1="922.5" y1="667.8" x2="922.5" y2="690.5"/>
<line x1="1121.25" y1="667.8" x2="1121.25" y2="690.5"/>
<line x1="127.3" y1="627.20" x2="154.5" y2="627.20"/>
<line x1="142" y1="586.46" x2="154.5" y2="586.46"/>
<line x1="142" y1="562.63" x2="154.5" y2="562.63"/>
<line x1="142" y1="545.72" x2="154.5" y2="545.72"/>
<line x1="142" y1="532.61" x2="154.5" y2="532.61"/>
<line x1="142" y1="521.89" x2="154.5" y2="521.89"/>
<line x1="142" y1="512.83" x2="154.5" y2="512.83"/>
<line x1="142" y1="504.98" x2="154.5" y2="504.98"/>
<line x1="142" y1="498.06" x2="154.5" y2="498.06"/>
<line x1="127.3" y1="491.87" x2="154.5" y2="491.87"/>
<line x1="142" y1="451.13" x2="154.5" y2="451.13"/>
<line x1="142" y1="427.30" x2="154.5" y2="427.30"/>
<line x1="142" y1="410.39" x2="154.5" y2="410.39"/>
<line x1="142" y1="397.28" x2="154.5" y2="397.28"/>
<line x1="142" y1="386.56" x2="154.5" y2="386.56"/>
<line x1="142" y1="377.50" x2="154.5" y2="377.50"/>
<line x1="142" y1="369.65" x2="154.5" y2="369.65"/>
<line x1="142" y1="362.73" x2="154.5" y2="362.73"/>
<line x1="127.3" y1="356.54" x2="154.5" y2="356.54"/>
<line x1="142" y1="315.80" x2="154.5" y2="315.80"/>
<line x1="142" y1="291.97" x2="154.5" y2="291.97"/>
<line x1="142" y1="275.06" x2="154.5" y2="275.06"/>
<line x1="142" y1="261.95" x2="154.5" y2="261.95"/>
<line x1="142" y1="251.23" x2="154.5" y2="251.23"/>
<line x1="142" y1="242.17" x2="154.5" y2="242.17"/>
<line x1="142" y1="234.32" x2="154.5" y2="234.32"/>
<line x1="142" y1="227.40" x2="154.5" y2="227.40"/>
<line x1="127.3" y1="221.21" x2="154.5" y2="221.21"/>
<line x1="142" y1="180.47" x2="154.5" y2="180.47"/>
<line x1="142" y1="156.64" x2="154.5" y2="156.64"/>
<line x1="142" y1="139.73" x2="154.5" y2="139.73"/>
<line x1="142" y1="126.62" x2="154.5" y2="126.62"/>
<line x1="142" y1="115.90" x2="154.5" y2="115.90"/>
<line x1="142" y1="106.84" x2="154.5" y2="106.84"/>
<line x1="142" y1="667.94" x2="154.5" y2="667.94"/>
<line x1="142" y1="657.22" x2="154.5" y2="657.22"/>
<line x1="142" y1="648.16" x2="154.5" y2="648.16"/>
<line x1="142" y1="640.31" x2="154.5" y2="640.31"/>
<line x1="142" y1="633.39" x2="154.5" y2="633.39"/>
</g>
<line x1="553" y1="155.2" x2="606.8" y2="155.2" stroke="#CE0C15" stroke-width="3.8"/>
<line x1="552.9" y1="198.8" x2="604.5" y2="198.8" stroke="#14826F" stroke-width="4.2" stroke-dasharray="3 3.02"/>
<line x1="553" y1="242" x2="607.2" y2="242" stroke="#0C4FA1" stroke-width="3.9" stroke-dasharray="6.5 5.54"/>
<line x1="555" y1="291.5" x2="609" y2="291.5" stroke="#000" stroke-width="2.6"/>
<line x1="740" y1="155.3" x2="802.7" y2="155.3" stroke="#F36408" stroke-width="3.2"/>
<line x1="739.9" y1="198.6" x2="802.9" y2="198.6" stroke="#48526D" stroke-width="3" stroke-dasharray="6.1 5.98"/>
<line x1="739.9" y1="241.9" x2="803" y2="241.9" stroke="#7885A8" stroke-width="3.4" stroke-dasharray="2.2 3.88"/>
<line x1="310.8" y1="163.2" x2="284.9" y2="261.1" stroke="#F36408" stroke-width="2.2"/>
<polygon points="280.0,279.5 279.3,257.6 291.4,260.8" fill="#F36408"/>
<line x1="397.6" y1="215.2" x2="351.8" y2="406.3" stroke="#D90C14" stroke-width="2.4"/>
<polygon points="347.4,424.8 346.2,402.9 358.4,405.8" fill="#D90C14"/>
<line x1="512.9" y1="356.5" x2="490.2" y2="453.5" stroke="#0F4B3F" stroke-width="2.0"/>
<polygon points="485.9,472.0 484.6,450.1 496.8,453.0" fill="#0F4B3F"/>
<line x1="946.1" y1="562.8" x2="929.4" y2="624.2" stroke="#F36408" stroke-width="2.1"/>
<polygon points="924.4,642.5 923.9,620.6 935.9,623.9" fill="#F36408"/>
<g><text transform="translate(644.31,30.90) scale(0.9769,1)" font-size="31.3">N</text><text transform="translate(667.06,39.20) scale(1.1170,1)" font-size="22.1">h</text></g>
<g><text transform="translate(204.27,69.20) scale(1.1620,1)" font-size="31.8">200</text></g>
<g><text transform="translate(330.56,69.20) scale(1.1507,1)" font-size="31.8">300</text></g>
<g><text transform="translate(455.44,69.20) scale(1.1262,1)" font-size="31.8">400</text></g>
<g><text transform="translate(579.56,69.20) scale(1.1429,1)" font-size="31.8">500</text></g>
<g><text transform="translate(705.01,69.20) scale(1.1344,1)" font-size="31.8">600</text></g>
<g><text transform="translate(829.99,69.20) scale(1.1482,1)" font-size="31.8">700</text></g>
<g><text transform="translate(953.35,69.20) scale(1.1556,1)" font-size="31.8">800</text></g>
<g><text transform="translate(1078.75,69.20) scale(1.1719,1)" font-size="31.8">900</text></g>
<g><text transform="translate(217.12,732.30) scale(1.1151,1)" font-size="36.6">500</text></g>
<g><text transform="translate(446.87,732.30) scale(1.1046,1)" font-size="36.6">1000</text></g>
<g><text transform="translate(670.79,732.30) scale(1.0994,1)" font-size="36.6">1500</text></g>
<g><text transform="translate(878.49,732.30) scale(1.1143,1)" font-size="36.6">2000</text></g>
<g><text transform="translate(1077.69,732.30) scale(1.1156,1)" font-size="36.6">2500</text></g>
<g><text transform="translate(572.60,776.70) scale(1.1418,1)" font-size="28">energy [keV]</text></g>
<g><text transform="translate(63.24,236.70) scale(1.1282,1)" font-size="32">10</text><text transform="translate(104.10,224.40) scale(1.2043,1)" font-size="24">3</text></g>
<g><text transform="translate(63.24,373.30) scale(1.1282,1)" font-size="32">10</text><text transform="translate(104.25,361.00) scale(1.1594,1)" font-size="23">2</text></g>
<g><text transform="translate(81.18,502.40) scale(1.1586,1)" font-size="32">10</text></g>
<g><text transform="translate(100.72,638.40) scale(1.1379,1)" font-size="32">1</text></g>
<g><text transform="translate(42.20,471.46) rotate(-90) scale(0.9579,1)" font-size="32">events</text><text transform="translate(47.30,380.42) rotate(-90) scale(0.9886,1) skewX(-7.5)" font-size="37">/</text><text transform="translate(42.20,365.41) rotate(-90) scale(1.0135,1)" font-size="32">5N</text><text transform="translate(50.20,324.73) rotate(-90) scale(1.0884,1)" font-size="21">h</text></g>
<g><text transform="translate(616.05,158.20) scale(0.9192,1)" font-size="26.8">CNO-</text><text transform="translate(678.10,158.20) scale(1.4491,1)" font-size="26.5" font-family="'Liberation Serif', 'DejaVu Serif', serif">ν</text></g>
<g><text transform="translate(618.72,198.90) scale(1.0060,1)" font-size="26.8">pep-</text><text transform="translate(671.70,198.90) scale(1.4491,1)" font-size="26.5" font-family="'Liberation Serif', 'DejaVu Serif', serif">ν</text></g>
<g><text transform="translate(618.87,241.40) scale(1.1184,1)" font-size="19.6">210</text><text transform="translate(657.52,253.10) scale(1.0416,1)" font-size="26.8">Bi</text></g>
<g><text transform="translate(625.20,298.70) scale(1.1145,1)" font-size="27.2">total</text><text transform="translate(690.00,298.70) scale(1.1121,1)" font-size="27.2"> fit:</text><text transform="translate(729.55,298.70) scale(1.0288,1)" font-size="27.2"> p-value</text><text transform="translate(828.73,298.70) scale(0.9926,1)" font-size="27.2"> =</text><text transform="translate(852.35,298.70) scale(1.1127,1)" font-size="27.2"> 0.3</text></g>
<g><text transform="translate(812.76,151.60) scale(1.0781,1)" font-size="18.6">7</text><text transform="translate(824.26,164.00) scale(0.9878,1)" font-size="26.4">Be-</text><text transform="translate(863.90,164.00) scale(1.3802,1)" font-size="26" font-family="'Liberation Serif', 'DejaVu Serif', serif">ν</text><text transform="translate(887.99,164.00) scale(1.1069,1)" font-size="26.4"> and </text><text transform="translate(944.62,151.60) scale(1.1655,1)" font-size="18.6">8</text><text transform="translate(956.24,164.00) scale(1.0477,1)" font-size="26.4">B-</text><text transform="translate(982.90,164.00) scale(1.3099,1)" font-size="26" font-family="'Liberation Serif', 'DejaVu Serif', serif">ν</text></g>
<g><text transform="translate(813.89,201.10) scale(1.0643,1)" font-size="27.3">external backgrounds</text></g>
<g><text transform="translate(813.89,244.90) scale(1.0676,1)" font-size="27.3">other backgrounds</text></g>
<g><text transform="translate(291.58,141.90) scale(1.1102,1)" font-size="19.6" fill="#F36408">7</text><text transform="translate(304.36,153.90) scale(1.0236,1)" font-size="26.8" fill="#F36408">Be</text></g>
<g><text transform="translate(376.20,207.60) scale(0.9399,1)" font-size="27.2" fill="#D90C14">CNO</text></g>
<g><text transform="translate(494.86,349.40) scale(1.0850,1)" font-size="27.2" fill="#0F4B3F">pep</text></g>
<g><text transform="translate(928.66,538.70) scale(1.2052,1)" font-size="19.7" fill="#F36408">8</text><text transform="translate(942.07,551.20) scale(0.9980,1)" font-size="27.3" fill="#F36408">B</text></g>
</svg>
</body></html>
